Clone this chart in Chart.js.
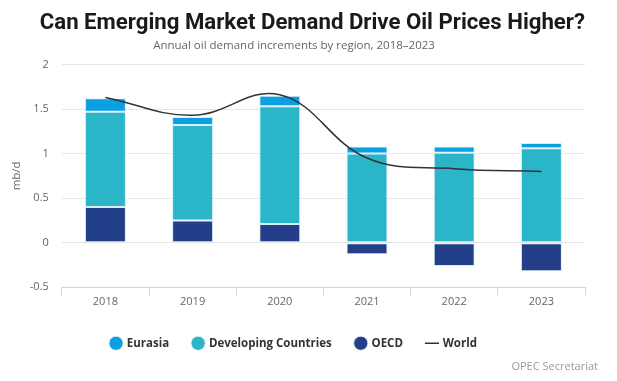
<!DOCTYPE html>
<html lang="en">
  <head>
    <meta charset="UTF-8">
    <title>Oil demand increments</title>
    <script src="https://cdn.jsdelivr.net/npm/chart.js"></script>
    <style>
      html, body { margin: 0; padding: 0; background: #fff; }
      #wrap { position: relative; width: 617px; height: 381px; }
    </style>
  </head>
  <body>
    <div id="wrap"><canvas id="demandChart" width="617" height="381"></canvas></div>
    <script>
      const years = ['2018', '2019', '2020', '2021', '2022', '2023'];
      const oecd = [0.40, 0.25, 0.21, -0.13, -0.26, -0.32];
      const developing = [1.07, 1.07, 1.32, 1.00, 1.01, 1.06];
      const eurasia = [0.15, 0.09, 0.12, 0.08, 0.07, 0.06];
      const world = [1.63, 1.43, 1.66, 0.95, 0.83, 0.80];
      const yTicks = [-0.5, 0, 0.5, 1, 1.5, 2];

      const legendRank = { 'Eurasia': 0, 'Developing Countries': 1, 'OECD': 2, 'World': 3 };
      const axisFont = { family: 'Open Sans', size: 11 };

      // credit line bottom right
      const creditPlugin = {
        id: 'credit',
        afterDraw(chart) {
          const ctx = chart.ctx;
          ctx.save();
          ctx.font = '11px "Open Sans"';
          ctx.fillStyle = '#999';
          ctx.textAlign = 'right';
          ctx.textBaseline = 'middle';
          ctx.fillText('OPEC Secretariat', 598, 367);
          ctx.restore();
        }
      };

      const barStyle = { borderColor: '#d7eef6', borderWidth: 1, borderSkipped: false, pointStyle: 'circle', stack: 'regions' };

      new Chart(document.getElementById('demandChart'), {
        type: 'bar',
        data: {
          labels: years,
          datasets: [
            Object.assign({ label: 'OECD', data: oecd, backgroundColor: '#233f8a' }, barStyle),
            Object.assign({ label: 'Developing Countries', data: developing, backgroundColor: '#2bb5c9' }, barStyle),
            Object.assign({ label: 'Eurasia', data: eurasia, backgroundColor: '#0aa0e2' }, barStyle),
            {
              type: 'line',
              label: 'World',
              data: world,
              stack: 'world',
              order: -1,
              borderColor: '#333333',
              backgroundColor: '#333333',
              borderWidth: 1.5,
              tension: 0.4,
              pointRadius: 0,
              pointStyle: 'line'
            }
          ]
        },
        options: {
          responsive: false,
          animation: false,
          layout: { padding: { left: 3, right: 32, bottom: 22 } },
          datasets: { bar: { categoryPercentage: 1, barPercentage: 0.47 } },
          plugins: {
            title: {
              display: true,
              align: 'end',
              text: 'Can Emerging Market Demand Drive Oil Prices Higher?',
              color: '#1a1a1a',
              font: { family: 'Roboto', size: 22.2, weight: 'bold' },
              padding: { top: 10, bottom: 2 }
            },
            subtitle: {
              display: true,
              text: 'Annual oil demand increments by region, 2018\u20132023',
              color: '#666',
              font: { family: 'Open Sans', size: 11.5 },
              padding: { bottom: 12 }
            },
            legend: {
              position: 'bottom',
              labels: {
                usePointStyle: true,
                boxWidth: 10,
                boxHeight: 10,
                padding: 24,
                color: '#333',
                font: { family: 'Open Sans', size: 11.5, weight: 'bold' },
                sort: (a, b) => legendRank[a.text] - legendRank[b.text]
              }
            },
            tooltip: { enabled: false }
          },
          scales: {
            x: {
              stacked: true,
              afterFit: s => { s.height += 5; },
              grid: { drawOnChartArea: false, drawTicks: true, tickLength: 8, color: '#ccd6eb' },
              border: { color: '#ccd6eb' },
              ticks: { color: '#666', font: axisFont, padding: 0 }
            },
            y: {
              stacked: true,
              min: -0.5,
              max: 2,
              afterBuildTicks: axis => { axis.ticks = yTicks.map(v => ({ value: v })); },
              grid: {
                drawTicks: false,
                color: c => (c.tick && c.tick.value === -0.5) ? 'rgba(0,0,0,0)' : '#e6e6e6'
              },
              border: { display: false },
              ticks: { color: '#666', font: axisFont, padding: 13, callback: v => String(v) },
              title: { display: true, text: 'mb/d', color: '#666', font: { family: 'Open Sans', size: 11.5 }, padding: { top: 7, bottom: -7 } }
            }
          }
        },
        plugins: [creditPlugin]
      });
    </script>
  </body>
</html>
